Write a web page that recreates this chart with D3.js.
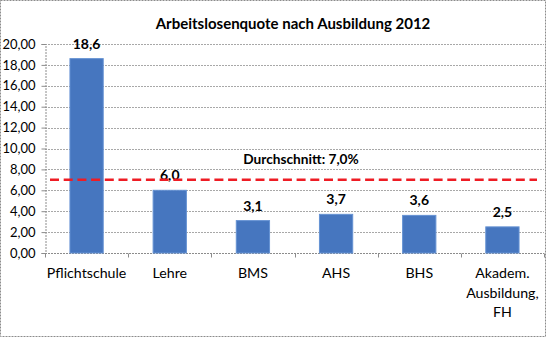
<!DOCTYPE html>
<html>
<head>
<meta charset="utf-8">
<script src="https://cdn.jsdelivr.net/npm/d3@7"></script>
<style>
  html, body { margin: 0; padding: 0; background: #fff; }
  svg { display: block; font-family: Lato, "Open Sans", sans-serif; }
</style>
</head>
<body>
<svg id="chart" width="547" height="338"></svg>
<script>
// Arbeitslosenquote nach höchster abgeschlossener Ausbildung, 2012 (in %)
const categories = ["Pflichtschule", "Lehre", "BMS", "AHS", "BHS", "Akadem. Ausbildung, FH"];
const categoryLines = [["Pflichtschule"], ["Lehre"], ["BMS"], ["AHS"], ["BHS"], ["Akadem.", "Ausbildung,", "FH"]];
const quote = [18.6, 6.0, 3.1, 3.7, 3.6, 2.5];
const durchschnitt = 7.0;
const yTicks = [0, 2, 4, 6, 8, 10, 12, 14, 16, 18, 20];
const title = "Arbeitslosenquote nach Ausbildung 2012";
const avgLabel = "Durchschnitt: 7,0%";

const de = d3.formatLocale({ decimal: ",", thousands: ".", grouping: [3], currency: ["", " €"] });
const fmtTick = de.format(".2f");
const fmtVal = de.format(".1f");

const W = 547, H = 338;
const m = { left: 45, right: 3, top: 44, bottom: 85 };
const svg = d3.select("#chart");

// chart frame
svg.append("rect")
  .attr("x", 0.5).attr("y", 0.5).attr("width", W - 2).attr("height", H - 2)
  .attr("fill", "#fff").attr("stroke", "#8c8c8c").attr("stroke-dasharray", "2,1");

const x = d3.scaleBand().domain(categories).range([m.left, W - m.right]).padding(0);
const y = d3.scaleLinear().domain([0, 20]).range([H - m.bottom, m.top]);

// horizontal gridlines
svg.append("g").selectAll("line").data(yTicks.filter(d => d > 0)).join("line")
  .attr("x1", m.left).attr("x2", W - m.right)
  .attr("y1", d => Math.round(y(d)) + 0.5).attr("y2", d => Math.round(y(d)) + 0.5)
  .attr("stroke", "#a8a8a8").attr("stroke-dasharray", "2,1");

// y axis
const yAxis = svg.append("g")
  .attr("transform", `translate(${m.left + 0.5},0)`)
  .call(d3.axisLeft(y).tickValues(yTicks).tickFormat(fmtTick).tickSize(4).tickPadding(6));
yAxis.select(".domain").attr("stroke", "#8c8c8c").attr("stroke-dasharray", "2,1");
yAxis.selectAll(".tick line").attr("stroke", "#8c8c8c");
yAxis.selectAll(".tick text").attr("font-size", 13).attr("fill", "#000")
  .attr("font-family", "Lato, sans-serif");

// x axis with boundary tick marks
const xAxisG = svg.append("g").attr("transform", `translate(0,${Math.round(y(0)) + 0.5})`);
xAxisG.append("line").attr("x1", m.left).attr("x2", W - m.right)
  .attr("stroke", "#8c8c8c").attr("stroke-dasharray", "2,1");
const bounds = categories.map(c => x(c)).concat([x(categories[categories.length - 1]) + x.bandwidth()]);
xAxisG.selectAll("line.tk").data(bounds).join("line").attr("class", "tk")
  .attr("x1", d => Math.round(d) + 0.5).attr("x2", d => Math.round(d) + 0.5)
  .attr("y1", 0).attr("y2", 4).attr("stroke", "#8c8c8c");

// category labels
const catG = svg.append("g").selectAll("text").data(categories).join("text")
  .attr("x", d => x(d) + x.bandwidth() / 2)
  .attr("y", y(0) + 25)
  .attr("text-anchor", "middle").attr("font-size", 14.2).attr("fill", "#000");
catG.each(function (d, i) {
  d3.select(this).selectAll("tspan").data(categoryLines[i]).join("tspan")
    .attr("x", x(d) + x.bandwidth() / 2)
    .attr("dy", (t, j) => j === 0 ? 0 : 19.7)
    .text(t => t);
});

// bars
const barW = x.bandwidth() * 0.4;
svg.append("g").selectAll("rect").data(quote).join("rect")
  .attr("x", (d, i) => x(categories[i]) + (x.bandwidth() - barW) / 2)
  .attr("y", d => y(d))
  .attr("width", barW)
  .attr("height", d => y(0) - y(d))
  .attr("fill", "#4676bf").attr("stroke", "#6592d3").attr("stroke-width", 1);

// value labels
svg.append("g").selectAll("text").data(quote).join("text")
  .attr("x", (d, i) => x(categories[i]) + x.bandwidth() / 2)
  .attr("y", d => y(d) - 10)
  .attr("text-anchor", "middle").attr("font-size", 14).attr("font-weight", "bold")
  .attr("fill", "#000")
  .text(d => fmtVal(d));

// average line
svg.append("line")
  .attr("x1", m.left + 5).attr("x2", W - m.right - 7)
  .attr("y1", y(durchschnitt)).attr("y2", y(durchschnitt))
  .attr("stroke", "#ee1c24").attr("stroke-width", 2.5).attr("stroke-dasharray", "9,4.7");

svg.append("text")
  .attr("x", 301).attr("y", y(durchschnitt) - 16)
  .attr("text-anchor", "middle").attr("font-size", 13.7).attr("font-weight", "bold")
  .attr("fill", "#000").text(avgLabel);

// title
svg.append("text")
  .attr("x", 293).attr("y", 29)
  .attr("text-anchor", "middle").attr("font-size", 15).attr("font-weight", "bold")
  .attr("fill", "#000").text(title);
</script>
</body>
</html>
